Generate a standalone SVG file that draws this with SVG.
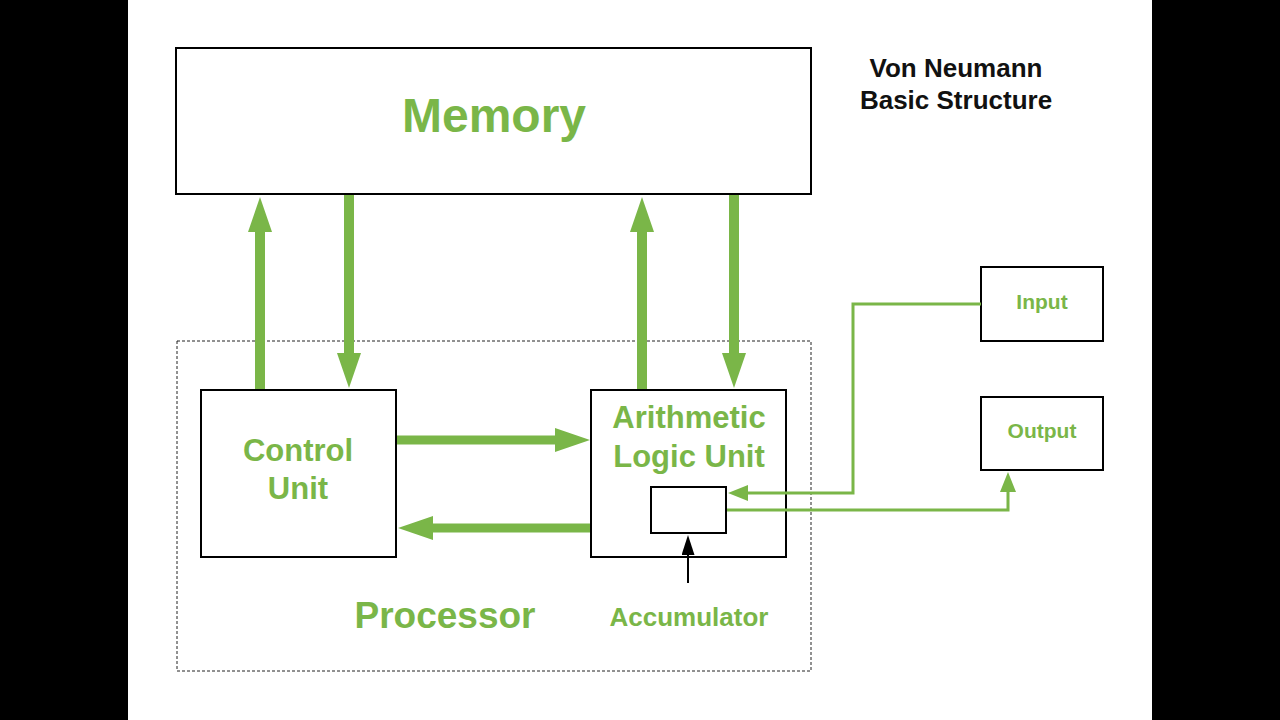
<svg xmlns="http://www.w3.org/2000/svg" width="1280" height="720" viewBox="0 0 1280 720">
<defs>
<style>
.box{fill:#fff;stroke:#000;stroke-width:2}
.g{fill:#7ab648;font-family:"Liberation Sans",Arial,sans-serif;font-weight:bold;text-anchor:middle}
.k{fill:#111;font-family:"Liberation Sans",Arial,sans-serif;font-weight:bold;text-anchor:middle}
.thick{stroke:#7ab648;stroke-width:10;fill:none;marker-end:url(#bigHead)}
.thin{stroke:#7ab648;stroke-width:3;fill:none;marker-end:url(#smallHead)}
</style>
<marker id="bigHead" markerUnits="userSpaceOnUse" viewBox="0 0 35 24" refX="0" refY="12" markerWidth="35" markerHeight="24" orient="auto">
<path d="M0,0 L35,12 L0,24 z" fill="#7ab648"/>
</marker>
<marker id="smallHead" markerUnits="userSpaceOnUse" viewBox="0 0 20 16" refX="0" refY="8" markerWidth="20" markerHeight="16" orient="auto">
<path d="M0,0 L20,8 L0,16 z" fill="#7ab648"/>
</marker>
<marker id="blackHead" markerUnits="userSpaceOnUse" viewBox="0 0 20 13" refX="0" refY="6.5" markerWidth="20" markerHeight="13" orient="auto">
<path d="M0,0 L20,6.5 L0,13 z" fill="#000"/>
</marker>
</defs>
<rect x="0" y="0" width="1280" height="720" fill="#000"/>
<rect x="128" y="0" width="1024" height="720" fill="#fff"/>

<g id="title">
<text class="k" x="956" y="77" font-size="26">Von Neumann</text>
<text class="k" x="956" y="109" font-size="26">Basic Structure</text>
</g>

<g id="processor">
<rect x="177" y="341" width="634" height="330" fill="none" stroke="#222" stroke-width="1" stroke-dasharray="3,2"/>
<text class="g" x="445" y="628" font-size="37">Processor</text>
</g>

<g id="memory">
<rect class="box" x="176" y="48" width="635" height="146"/>
<text class="g" x="494" y="132" font-size="48">Memory</text>
</g>

<g id="control-unit">
<rect class="box" x="201" y="390" width="195" height="167"/>
<text class="g" x="298" y="461" font-size="31">Control</text>
<text class="g" x="298" y="499" font-size="31">Unit</text>
</g>

<g id="alu">
<rect class="box" x="591" y="390" width="195" height="167"/>
<text class="g" x="689" y="428" font-size="31">Arithmetic</text>
<text class="g" x="689" y="467" font-size="31">Logic Unit</text>
</g>

<g id="accumulator">
<rect class="box" x="651" y="487" width="75" height="46"/>
<text class="g" x="689" y="626" font-size="26">Accumulator</text>
</g>

<g id="input">
<rect class="box" x="981" y="267" width="122" height="74"/>
<text class="g" x="1042" y="309" font-size="21">Input</text>
</g>

<g id="output">
<rect class="box" x="981" y="397" width="122" height="73"/>
<text class="g" x="1042" y="438" font-size="21">Output</text>
</g>

<g id="connectors">
<line class="thick" x1="260" y1="389" x2="260" y2="232"/>
<line class="thick" x1="349" y1="195" x2="349" y2="353"/>
<line class="thick" x1="642" y1="389" x2="642" y2="232"/>
<line class="thick" x1="734" y1="195" x2="734" y2="353"/>
<line class="thick" x1="397" y1="440" x2="555" y2="440" style="stroke-width:9"/>
<line class="thick" x1="590" y1="528" x2="433" y2="528" style="stroke-width:9"/>
<path class="thin" d="M981,304 H853 V493 H748"/>
<path class="thin" d="M727,510 H1008 V492"/>
<line x1="688" y1="583" x2="688" y2="555" stroke="#000" stroke-width="2" marker-end="url(#blackHead)"/>
</g>
</svg>
